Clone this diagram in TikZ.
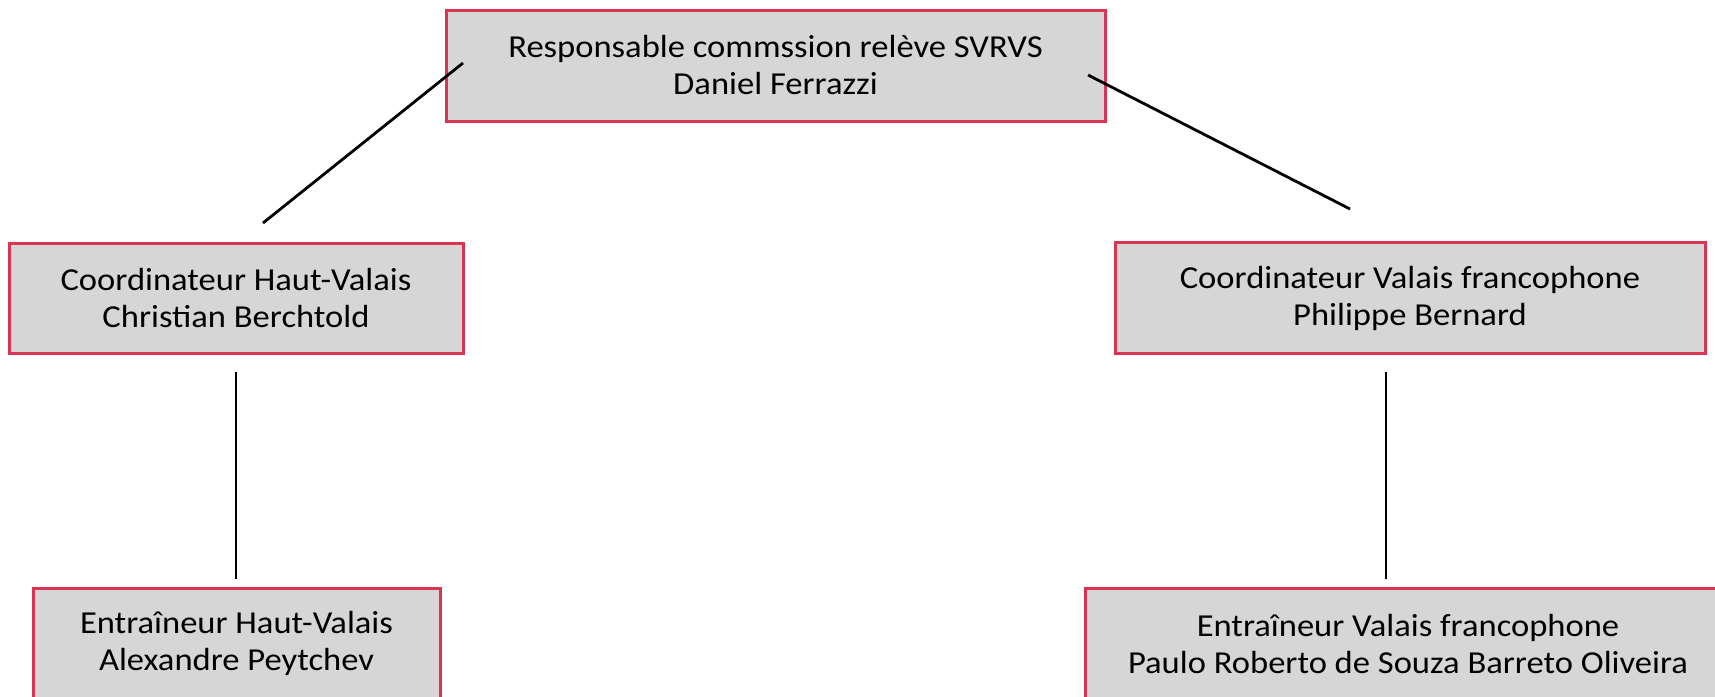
\documentclass[tikz,border=0pt]{standalone}
\usepackage{fontspec}
\setmainfont{Carlito}[FakeStretch=1.08]
\definecolor{boxred}{RGB}{218,52,82}
\definecolor{boxgray}{RGB}{214,214,214}
\begin{document}
\begin{tikzpicture}[x=1pt,y=-1pt,
  orgbox/.style={draw=boxred, line width=3pt, fill=boxgray, rectangle, inner sep=0pt,
    align=center, font=\fontsize{32}{37}\selectfont, text=black},
  link/.style={black, line width=2.8pt}]
\useasboundingbox (0,0) rectangle (1715,696);
\fill[white] (0,0) rectangle (1715,696);
\node[orgbox, minimum width=659pt, minimum height=111pt] (top) at (775.5,65.5)
  {Responsable commssion relève SVRVS\\Daniel Ferrazzi};
\node[orgbox, minimum width=454pt, minimum height=110pt] (lc) at (236,298)
  {Coordinateur Haut-Valais\\Christian Berchtold};
\node[orgbox, minimum width=590pt, minimum height=111pt] (rc) at (1410,298)
  {Coordinateur Valais francophone\\Philippe Bernard};
\node[orgbox, minimum width=407pt, minimum height=111pt] (lb) at (236.5,643.5)
  {Entraîneur Haut-Valais\\Alexandre Peytchev};
\node[orgbox, minimum width=646pt, minimum height=111pt] (rb) at (1408,643.5)
  {Entraîneur Valais francophone\\Paulo Roberto de Souza Barreto Oliveira};
\coordinate (l1a) at (463,63);
\coordinate (l1b) at (263,223);
\coordinate (l2a) at (1088,75);
\coordinate (l2b) at (1350,209);
\coordinate (l3a) at (236,372);
\coordinate (l3b) at (236,579);
\coordinate (l4a) at (1386,372);
\coordinate (l4b) at (1386,579);
\draw[link] (l1a) -- (l1b);
\draw[link] (l2a) -- (l2b);
\draw[link] (l3a) -- (l3b);
\draw[link] (l4a) -- (l4b);
\end{tikzpicture}
\end{document}
